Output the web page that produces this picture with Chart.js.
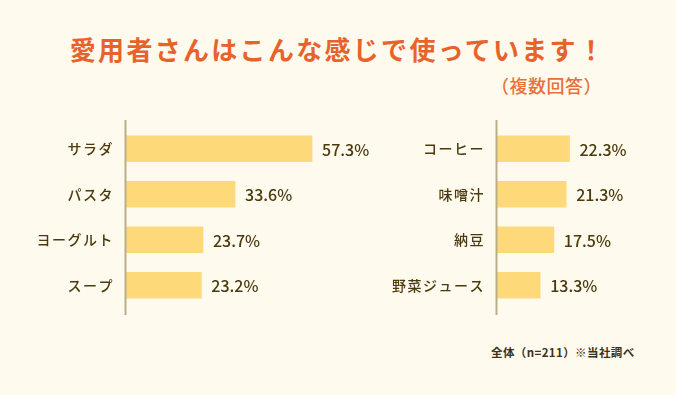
<!DOCTYPE html>
<html>
<head>
<meta charset="utf-8">
<script src="https://cdn.jsdelivr.net/npm/chart.js@4"></script>
<style>
  body { margin: 0; background: #fffaee; }
  #wrap { position: relative; width: 676px; height: 395px; background: #fffaee; overflow: hidden;
          font-family: "Noto Sans CJK JP", "Noto Sans", sans-serif; }
  #title { position: absolute; left: 0; width: 676px; top: 31px; text-align: center;
           color: #e8632b; font-size: 26px; font-weight: bold; letter-spacing: 2.3px; line-height: 36px; }
  #sub { position: absolute; left: 491px; top: 72px; color: #e9703a; font-size: 18px; font-weight: 500; letter-spacing: 0.5px; line-height: 26px; }
  #note { position: absolute; left: 491px; top: 343px; color: #3a3320; font-size: 11.5px; font-weight: bold; letter-spacing: 0.4px; line-height: 18px; }
  canvas { position: absolute; }
</style>
</head>
<body>
<div id="wrap">
  <div id="title">愛用者さんはこんな感じで使っています！</div>
  <div id="sub">（複数回答）</div>
  <div id="note">全体（n=211）※当社調べ</div>
  <canvas id="leftChart" style="left:0;top:100px" width="400" height="230"></canvas>
  <canvas id="rightChart" style="left:338px;top:100px" width="338" height="230"></canvas>
</div>
<script>
const foodLabels = ["サラダ", "パスタ", "ヨーグルト", "スープ"];
const foodValues = [57.3, 33.6, 23.7, 23.2];
const drinkLabels = ["コーヒー", "味噌汁", "納豆", "野菜ジュース"];
const drinkValues = [22.3, 21.3, 17.5, 13.3];

const barColor = "#fed97a";
const textColor = "#4b3a0e";
const axisColor = "#b9ae89";

// value text at the end of each bar + axis line a bit longer than the area
const barText = {
  id: "barText",
  beforeDraw(chart) {
    chart.ctx.letterSpacing = "1.5px";
  },
  afterDatasetsDraw(chart) {
    const ctx = chart.ctx;
    const meta = chart.getDatasetMeta(0);
    ctx.save();
    ctx.letterSpacing = "0px";
    ctx.font = "500 16px 'Noto Sans CJK JP', 'Noto Sans', sans-serif";
    ctx.fillStyle = textColor;
    ctx.textBaseline = "middle";
    meta.data.forEach((bar, i) => {
      const v = chart.data.datasets[0].data[i];
      ctx.fillText(v.toFixed(1) + "%", bar.x + 10, bar.y + 1);
    });
    const a = chart.chartArea;
    ctx.strokeStyle = axisColor;
    ctx.lineWidth = 2;
    ctx.beginPath();
    ctx.moveTo(a.left - 0.5, a.top - 6);
    ctx.lineTo(a.left - 0.5, a.bottom + 7);
    ctx.stroke();
    ctx.restore();
  }
};

function makeChart(id, labels, values, axisWidth, maxVal, padRight) {
  return new Chart(document.getElementById(id), {
    type: "bar",
    data: {
      labels: labels,
      datasets: [{ data: values, backgroundColor: barColor, barThickness: 26 }]
    },
    options: {
      indexAxis: "y",
      responsive: false,
      animation: false,
      layout: { padding: { top: 26, bottom: 22, left: 0, right: padRight } },
      plugins: { legend: { display: false }, tooltip: { enabled: false } },
      scales: {
        x: { display: false, min: 0, max: maxVal },
        y: {
          grid: { display: false, drawTicks: false },
          border: { display: false },
          ticks: {
            color: textColor,
            padding: 12,
            font: { family: "'Noto Sans CJK JP', 'Noto Sans', sans-serif", size: 14, weight: "500" }
          },
          afterFit(scale) { scale.width = axisWidth; }
        }
      }
    },
    plugins: [barText]
  });
}

makeChart("leftChart", foodLabels, foodValues, 126, 65.3, 62);
makeChart("rightChart", drinkLabels, drinkValues, 159, 55.1, 0);
</script>
</body>
</html>
